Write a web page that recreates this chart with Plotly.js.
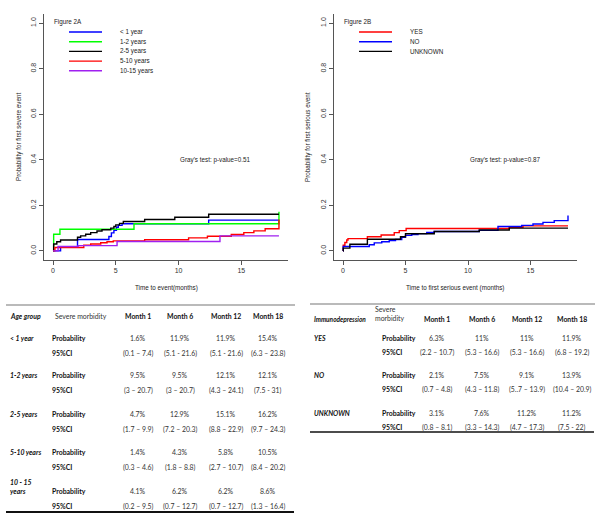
<!DOCTYPE html>
<html>
<head>
<meta charset="utf-8">
<script src="https://cdn.plot.ly/plotly-3.0.1.min.js"></script>
<style>html,body{margin:0;padding:0;background:#fff}#chart{width:600px;height:522px}</style>
</head>
<body>
<div id="chart"></div>
<script>
// ---------- Figure 2A: cumulative incidence by age group ----------
const ageGroups = ['< 1 year', '1-2 years', '2-5 years', '5-10 years', '10-15 years'];
const ageColors = ['#0000FF', '#00FF00', '#000000', '#FF0000', '#A020F0'];
const lt1_t = [0, 0.6, 1.95, 4.45, 4.65, 4.85, 5.05, 5.2, 5.5, 12.4, 18];
const lt1_p = [0, 0.016, 0.05, 0.063, 0.079, 0.09, 0.104, 0.112, 0.119, 0.135, 0.135];
const lt2_t = [0, 0.05, 0.55, 6.45, 18];
const lt2_p = [0, 0.073, 0.095, 0.119, 0.172];
const lt3_t = [0, 0.05, 0.3, 0.6, 1.95, 2.2, 2.6, 3.0, 3.5, 3.9, 4.6, 4.85, 5.0, 5.3, 5.6, 7.3, 9.7, 12.4, 18];
const lt3_p = [0, 0.03, 0.04, 0.048, 0.06, 0.066, 0.073, 0.08, 0.087, 0.093, 0.1, 0.107, 0.114, 0.121, 0.129, 0.138, 0.148, 0.161, 0.161];
const lt4_t = [0, 0.15, 2.45, 3.0, 3.8, 4.3, 4.8, 7.3, 10.8, 12.3, 14.2, 15.2, 16.0, 16.9, 18];
const lt4_p = [0, 0.015, 0.025, 0.03, 0.036, 0.04, 0.044, 0.049, 0.057, 0.064, 0.072, 0.08, 0.088, 0.097, 0.138];
const lt5_t = [0, 0.4, 2.0, 5.1, 13.3, 18];
const lt5_p = [0, 0.019, 0.023, 0.041, 0.066, 0.066];

// ---------- Figure 2B: cumulative incidence by immunodepression ----------
const immGroups = ['YES', 'NO', 'UNKNOWN'];
const immColors = ['#FF0000', '#0000FF', '#000000'];
const rt1_t = [0, 0.02, 0.15, 0.3, 0.4, 1.95, 3.05, 4.1, 4.5, 5.05, 13.3, 14.4, 18];
const rt1_p = [0, 0.025, 0.037, 0.048, 0.054, 0.062, 0.07, 0.08, 0.089, 0.098, 0.104, 0.11, 0.11];
const rt2_t = [0, 0.02, 2.1, 2.5, 3.1, 3.7, 4.2, 4.7, 5.0, 5.5, 6.0, 6.7, 7.3, 10.9, 12.4, 14.3, 15.2, 16.0, 16.9, 18];
const rt2_p = [0, 0.019, 0.027, 0.035, 0.04, 0.045, 0.05, 0.06, 0.068, 0.072, 0.076, 0.081, 0.085, 0.09, 0.107, 0.112, 0.118, 0.125, 0.133, 0.155];
const rt3_t = [0, 0.02, 0.55, 1.95, 4.6, 5.0, 7.3, 10.9, 13.3, 18];
const rt3_p = [0, 0.012, 0.029, 0.051, 0.062, 0.075, 0.085, 0.092, 0.1, 0.1];

const xTicks = [0, 5, 10, 15];
const yTicks = [0, 0.2, 0.4, 0.6, 0.8, 1.0];
const yTickText = ['0.0', '0.2', '0.4', '0.6', '0.8', '1.0'];

// ---------- Table values ----------
const months = ['Month 1', 'Month 6', 'Month 12', 'Month 18'];
const ageRowLabels = ['< 1 year', '1-2 years', '2-5 years', '5-10 years', '10 - 15<br>years'];
const ageProb = [
  ['1.6%', '11.9%', '11.9%', '15.4%'],
  ['9.5%', '9.5%', '12.1%', '12.1%'],
  ['4.7%', '12.9%', '15.1%', '16.2%'],
  ['1.4%', '4.3%', '5.8%', '10.5%'],
  ['4.1%', '6.2%', '6.2%', '8.6%']
];
const ageCI = [
  ['(0.1 – 7.4)', '(5.1 - 21.6)', '(5.1 - 21.6)', '(6.3 – 23.8)'],
  ['(3 – 20.7)', '(3 – 20.7)', '(4.3 – 24.1)', '(7.5 - 31)'],
  ['(1.7 – 9.9)', '(7.2 – 20.3)', '(8.8 – 22.9)', '(9.7 – 24.3)'],
  ['(0.3 – 4.6)', '(1.8 – 8.8)', '(2.7 – 10.7)', '(8.4 – 20.2)'],
  ['(0.2 – 9.5)', '(0.7 – 12.7)', '(0.7 – 12.7)', '(1.3 – 16.4)']
];
const immRowLabels = ['YES', 'NO', 'UNKNOWN'];
const immProb = [
  ['6.3%', '11%', '11%', '11.9%'],
  ['2.1%', '7.5%', '9.1%', '13.9%'],
  ['3.1%', '7.6%', '11.2%', '11.2%']
];
const immCI = [
  ['(2.2 – 10.7)', '(5.3 – 16.6)', '(5.3 – 16.6)', '(6.8 – 19.2)'],
  ['(0.7 – 4.8)', '(4.3 – 11.8)', '(5..7 – 13.9)', '(10.4 – 20.9)'],
  ['(0.8 – 8.1)', '(3.3 – 14.3)', '(4.7 – 17.3)', '(7.5 - 22)']
];

// ---------- helpers (pixel -> paper) ----------
const W = 600, H = 522;
const px = x => x / W;
const py = y => 1 - y / H;

const leftT = [lt1_t, lt2_t, lt3_t, lt4_t, lt5_t];
const leftP = [lt1_p, lt2_p, lt3_p, lt4_p, lt5_p];
const rightT = [rt1_t, rt2_t, rt3_t];
const rightP = [rt1_p, rt2_p, rt3_p];

const traces = [];
leftT.forEach((t, i) => traces.push({
  type: 'scatter', mode: 'lines', x: t, y: leftP[i], name: ageGroups[i],
  line: {shape: 'hv', color: ageColors[i], width: 1.4}, xaxis: 'x', yaxis: 'y', showlegend: false
}));
rightT.forEach((t, i) => traces.push({
  type: 'scatter', mode: 'lines', x: t, y: rightP[i], name: immGroups[i],
  line: {shape: 'hv', color: immColors[i], width: 1.4}, xaxis: 'x2', yaxis: 'y2', showlegend: false
}));

const PLOTFONT = 'Liberation Sans, Arial, sans-serif';
const TABFONT = 'Lato, Carlito, Calibri, sans-serif';
const axColor = '#555';

function xax(domain) {
  return {domain: domain, range: [-0.72, 18.72], tickvals: xTicks, ticks: 'outside', ticklen: 4,
    tickcolor: axColor, tickwidth: 1, showline: true, linecolor: axColor, linewidth: 1,
    zeroline: false, showgrid: false, tickfont: {family: PLOTFONT, size: 7, color: '#333'}, fixedrange: true};
}
function yax(anchor) {
  return {domain: [py(260), py(14)], range: [-0.04, 1.04], tickvals: yTicks, ticktext: yTickText,
    ticks: 'outside', ticklen: 4, tickcolor: axColor, tickwidth: 1, showline: true, linecolor: axColor,
    linewidth: 1, zeroline: false, showgrid: false, tickangle: -90, anchor: anchor,
    tickfont: {family: PLOTFONT, size: 7, color: '#333'}, fixedrange: true};
}

const annotations = [];
const shapes = [];
function txt(x, y, text, opts) {
  opts = opts || {};
  annotations.push(Object.assign({
    xref: 'paper', yref: 'paper', x: px(x), y: py(y), text: text, showarrow: false,
    xanchor: 'center', yanchor: 'middle',
    font: {family: PLOTFONT, size: 6.3, color: '#222'}
  }, opts));
}
function hline(x0, x1, y, color, width) {
  shapes.push({type: 'line', xref: 'paper', yref: 'paper', x0: px(x0), x1: px(x1), y0: py(y), y1: py(y),
    line: {color: color, width: width}});
}

// Plot labels
txt(166, 288, 'Time to event(months)');
txt(455, 288, 'Time to first serious event (months)');
txt(19, 137, 'Probability for first severe event', {textangle: -90});
txt(308, 137, 'Probability for first serious event', {textangle: -90});
txt(215, 160, "Gray's test: p-value=0.51");
txt(505, 160, "Gray's test: p-value=0.87");
txt(52, 22, 'Figure 2A', {xanchor: 'left'});
txt(342, 22, 'Figure 2B', {xanchor: 'left'});

// Manual legends
ageGroups.forEach((g, i) => {
  const y = 32 + i * 9.7;
  hline(69, 102, y, ageColors[i], 1.4);
  txt(118, y, g, {xanchor: 'left'});
});
immGroups.forEach((g, i) => {
  const y = 32 + i * 9.7;
  hline(359, 392, y, immColors[i], 1.4);
  txt(408, y, g, {xanchor: 'left'});
});

// ---------- Left table ----------
const tf = (size, color) => ({family: TABFONT, size: size, color: color});
const TS = 6.9;
hline(6, 295, 305, '#777', 1.2);
hline(6, 294, 512, '#111', 2);
txt(8, 316, '<b><i>Age group</i></b>', {xanchor: 'left', font: tf(TS, '#111')});
txt(53, 316, 'Severe morbidity', {xanchor: 'left', font: tf(TS, '#333')});
const lcols = [138, 180, 226, 268];
months.forEach((m, j) => txt(lcols[j], 316, '<b>' + m + '</b>', {font: tf(TS, '#111')}));
const lrowY = [338, 375, 414, 452, 491];
ageRowLabels.forEach((g, i) => {
  const y = lrowY[i];
  txt(8, i === 4 ? 486 : y, '<b><i>' + g + '</i></b>', {xanchor: 'left', align: 'left', font: tf(TS, '#111')});
  txt(50, y, '<b>Probability</b>', {xanchor: 'left', font: tf(TS, '#111')});
  txt(50, y + 15, '<b>95%CI</b>', {xanchor: 'left', font: tf(TS, '#111')});
  lcols.forEach((c, j) => {
    txt(c, y, ageProb[i][j], {font: tf(TS, '#333')});
    txt(c, y + 15, ageCI[i][j], {font: tf(TS, '#333')});
  });
});

// ---------- Right table ----------
hline(310, 595, 304, '#777', 1.2);
hline(310, 594, 432, '#111', 1.6);
txt(312, 319, '<b><i>Immunodepression</i></b>', {xanchor: 'left', font: tf(6.5, '#111')});
txt(373, 313, 'Severe<br>morbidity', {xanchor: 'left', align: 'left', font: tf(TS, '#333')});
const rcols = [437, 482, 527, 572];
months.forEach((m, j) => txt(rcols[j], 319, '<b>' + m + '</b>', {font: tf(TS, '#111')}));
const rrowY = [338, 375, 413];
immRowLabels.forEach((g, i) => {
  const y = rrowY[i];
  txt(312, y, '<b><i>' + g + '</i></b>', {xanchor: 'left', font: tf(TS, '#111')});
  txt(380, y, '<b>Probability</b>', {xanchor: 'left', font: tf(TS, '#111')});
  txt(380, y + 14, '<b>95%CI</b>', {xanchor: 'left', font: tf(TS, '#111')});
  rcols.forEach((c, j) => {
    txt(c, y, immProb[i][j], {font: tf(TS, '#333')});
    txt(c, y + 14, immCI[i][j], {font: tf(TS, '#333')});
  });
});

const layout = {
  width: W, height: H, margin: {l: 0, r: 0, t: 0, b: 0},
  paper_bgcolor: '#fff', plot_bgcolor: '#fff', showlegend: false,
  xaxis: Object.assign(xax([px(44), px(288)]), {anchor: 'y'}),
  yaxis: yax('x'),
  xaxis2: Object.assign(xax([px(334), px(577)]), {anchor: 'y2'}),
  yaxis2: yax('x2'),
  annotations: annotations, shapes: shapes
};

Plotly.newPlot('chart', traces, layout, {displayModeBar: false, staticPlot: true});
</script>
</body>
</html>
